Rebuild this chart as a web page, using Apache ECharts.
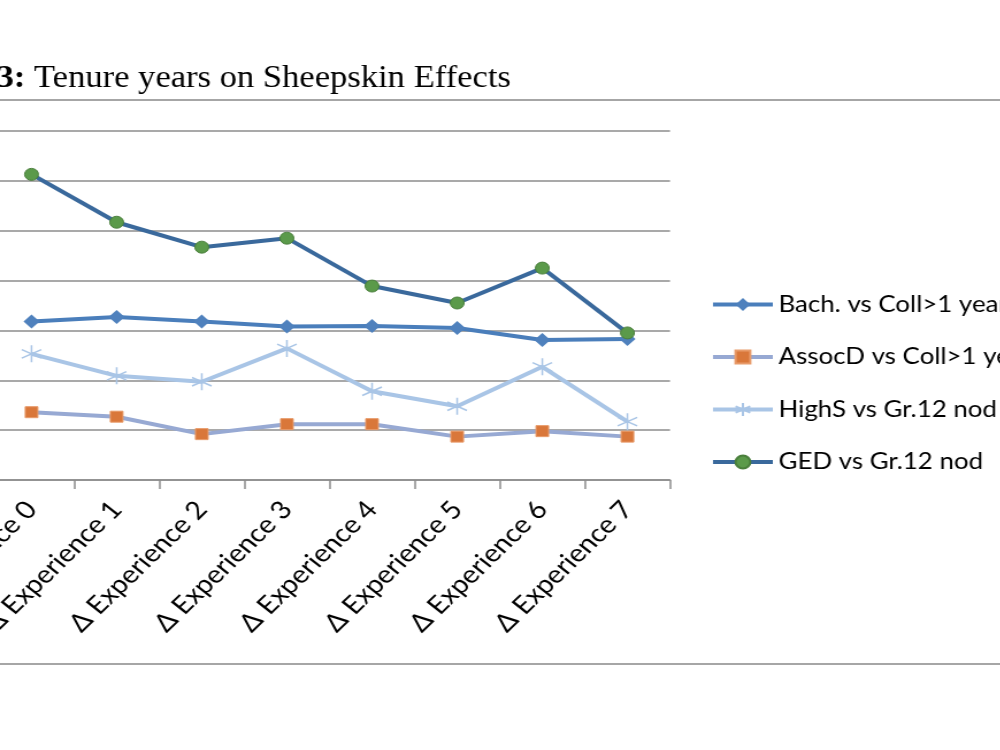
<!DOCTYPE html>
<html lang="en">
<head>
  <meta charset="utf-8">
  <title>Tenure years on Sheepskin Effects</title>
  <style>
    * { margin: 0; padding: 0; }
    body { width: 1000px; height: 750px; overflow: hidden; background: #fff; }
    /* the source picture is a chart image stretched sideways, so draw narrow and stretch */
    #chart-container {
      position: relative;
      width: 870px;
      height: 750px;
      transform: scaleX(1.15);
      transform-origin: 0 0;
    }
  </style>
</head>
<body>
  <div id="chart-container"></div>
  <script src="https://cdn.jsdelivr.net/npm/echarts@6/dist/echarts.min.js"></script>
  <script>
    var categories = ['Δ Experience 0', 'Δ Experience 1', 'Δ Experience 2', 'Δ Experience 3',
      'Δ Experience 4', 'Δ Experience 5', 'Δ Experience 6', 'Δ Experience 7'];

    var bachVsColl = [3.18, 3.27, 3.18, 3.08, 3.09, 3.05, 2.81, 2.83];
    var assocVsColl = [1.36, 1.27, 0.92, 1.12, 1.12, 0.87, 0.98, 0.87];
    var highSVsGr12 = [2.53, 2.09, 1.97, 2.64, 1.78, 1.48, 2.27, 1.17];
    var gedVsGr12 = [6.13, 5.17, 4.67, 4.85, 3.89, 3.55, 4.25, 2.95];

    var seriesNames = ['Bach. vs Coll>1 year', 'AssocD vs Coll>1 year', 'HighS vs Gr.12 nod', 'GED vs Gr.12 nod'];

    var dom = document.getElementById('chart-container');
    var myChart = echarts.init(dom, null, { renderer: 'canvas' });

    var stretch = 1.15;
    var W = 870;
    var labelFont = 'Lato, "Open Sans", sans-serif';
    var serifFont = '"Liberation Serif", "Times New Roman", serif';
    var asterisk = 'path://M0,-10L0,10M-8.7,-5L8.7,5M-8.7,5L8.7,-5';
    var titleScale = 1.08 / stretch;

    var option = {
      backgroundColor: '#fff',
      animation: false,
      graphic: [
        {
          type: 'text', x: 22.1, y: 78.5, scaleX: titleScale,
          style: { text: 'Figure 3:', font: 'bold 32px ' + serifFont, fill: '#000', align: 'right', verticalAlign: 'middle' }
        },
        {
          type: 'text', x: 29.6, y: 78.5, scaleX: titleScale,
          style: { text: 'Tenure years on Sheepskin Effects', font: '32px ' + serifFont, fill: '#000', align: 'left', verticalAlign: 'middle' }
        },
        { type: 'line', shape: { x1: 0, y1: 100, x2: W, y2: 100 }, style: { stroke: '#a6a6a6', lineWidth: 2 } },
        { type: 'line', shape: { x1: 0, y1: 664, x2: W, y2: 664 }, style: { stroke: '#a6a6a6', lineWidth: 2 } }
      ],
      legend: {
        orient: 'vertical',
        left: 613,
        top: 288,
        itemWidth: 52,
        itemHeight: 16,
        itemGap: 29.5,
        lineStyle: { width: 4 },
        textStyle: { fontFamily: labelFont, fontSize: 22.5, color: '#000', lineHeight: 22 },
        data: seriesNames
      },
      grid: {
        left: -9.6,
        right: 287.4,
        top: 131,
        bottom: 270,
        containLabel: false,
        outerBoundsMode: 'none'
      },
      xAxis: {
        type: 'category',
        data: categories,
        boundaryGap: true,
        axisLine: { lineStyle: { color: '#8c8c8c', width: 1.5 } },
        axisTick: { show: true, length: 9, lineStyle: { color: '#8c8c8c', width: 1.5 } },
        axisLabel: {
          rotate: 48,
          margin: 25,
          interval: 0,
          fontFamily: labelFont,
          fontSize: 25,
          color: '#000'
        }
      },
      yAxis: {
        type: 'value',
        min: 0,
        max: 7,
        interval: 1,
        axisLine: { show: false },
        axisTick: { show: false },
        axisLabel: { show: false },
        splitLine: { lineStyle: { color: '#8c8c8c', width: 1.5 } }
      },
      series: [
        {
          name: seriesNames[0],
          type: 'line',
          data: bachVsColl,
          symbol: 'diamond',
          symbolSize: 14,
          lineStyle: { color: '#4a7ebb', width: 4 },
          itemStyle: { color: '#4f81bd' }
        },
        {
          name: seriesNames[1],
          type: 'line',
          data: assocVsColl,
          symbol: 'rect',
          symbolSize: 11,
          lineStyle: { color: '#97a9d3', width: 4 },
          itemStyle: { color: '#d9773a', borderColor: '#e89b6a', borderWidth: 1 }
        },
        {
          name: seriesNames[2],
          type: 'line',
          data: highSVsGr12,
          symbol: asterisk,
          symbolSize: 17,
          lineStyle: { color: '#a9c5e6', width: 4 },
          itemStyle: { color: 'rgba(0,0,0,0)', borderColor: '#a9c5e6', borderWidth: 1.5 }
        },
        {
          name: seriesNames[3],
          type: 'line',
          data: gedVsGr12,
          symbol: 'circle',
          symbolSize: 12,
          lineStyle: { color: '#3a699c', width: 4 },
          itemStyle: { color: '#5b9a4a', borderColor: '#4a7f3c', borderWidth: 1 }
        }
      ]
    };

    myChart.setOption(option);
    window.addEventListener('resize', myChart.resize);
  </script>
</body>
</html>
